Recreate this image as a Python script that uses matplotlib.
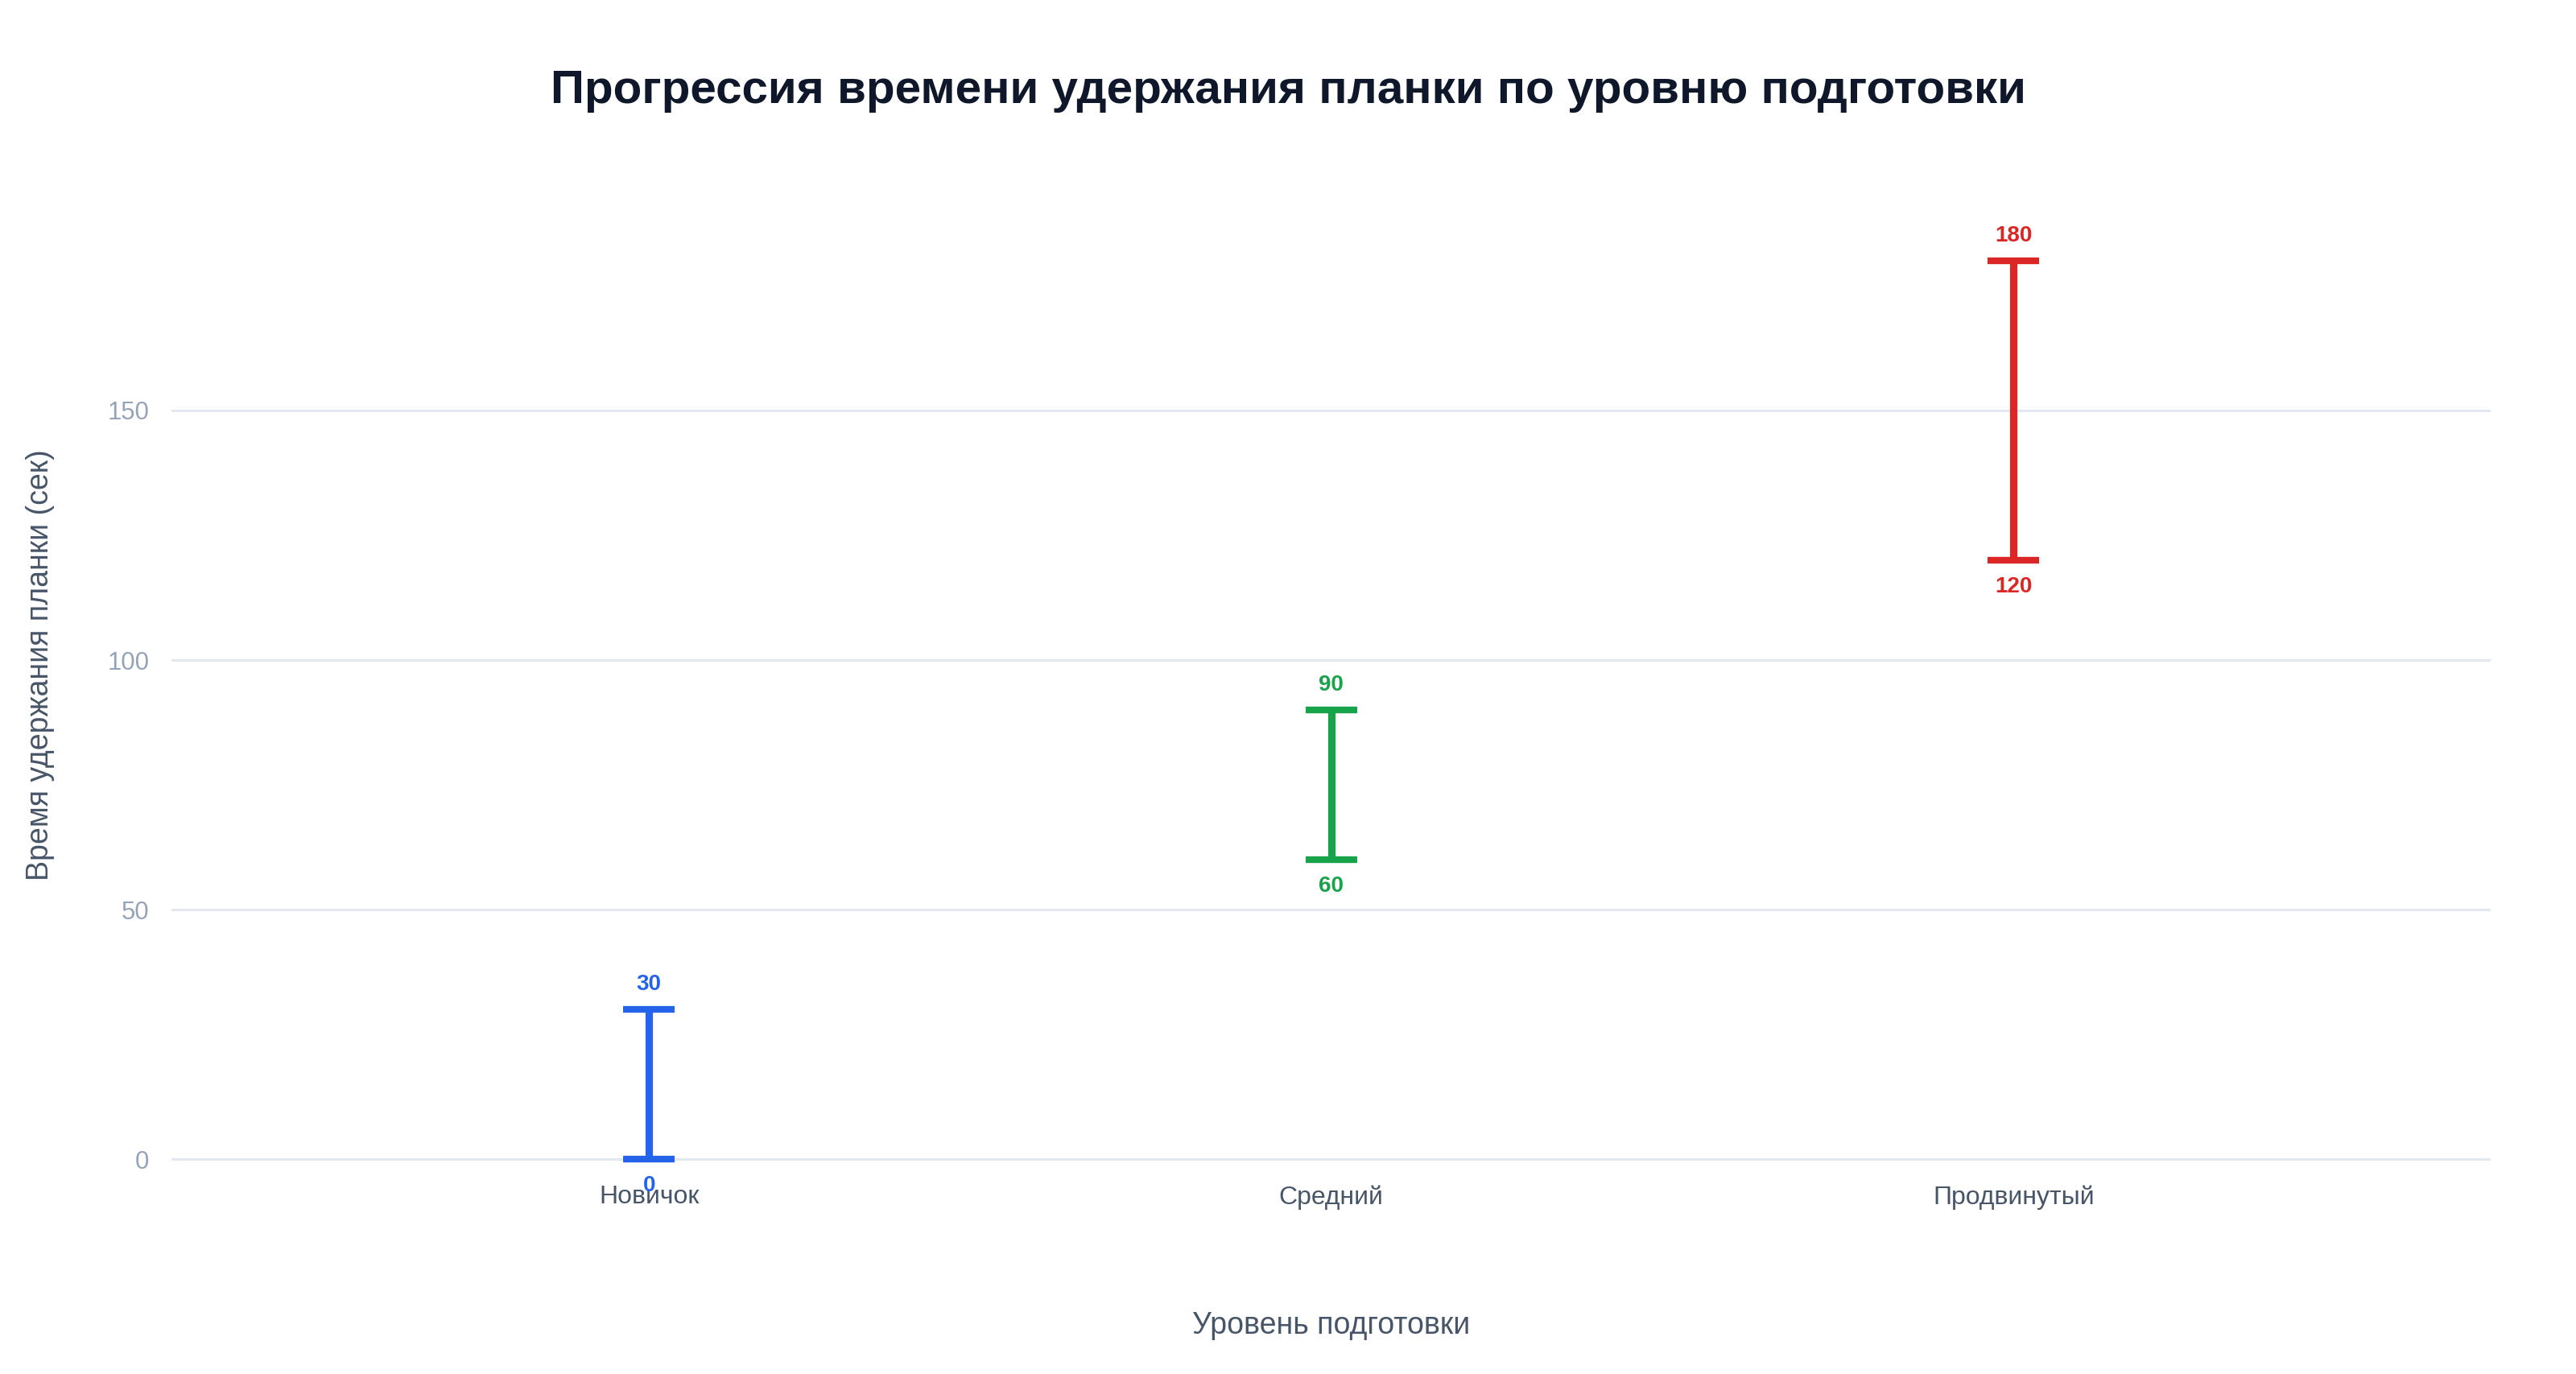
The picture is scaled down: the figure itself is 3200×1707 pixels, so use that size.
import matplotlib
matplotlib.use("Agg")
import matplotlib.pyplot as plt

plt.rcParams['font.family'] = ['Liberation Sans', 'DejaVu Sans']

levels = ['Новичок', 'Средний', 'Продвинутый']
min_time = [0, 60, 120]
max_time = [30, 90, 180]
colors = ['#2563eb', '#16a34a', '#dc2626']
yticks = [0, 50, 100, 150]

title = 'Прогрессия времени удержания планки по уровню подготовки'
xlabel = 'Уровень подготовки'
ylabel = 'Время удержания планки (сек)'

fig = plt.figure(figsize=(16, 8.535), dpi=200)
fig.patch.set_facecolor('white')
ax = fig.add_axes([0.0666, 0.1473, 0.967 - 0.0666, 0.8647 - 0.1473])

xs = list(range(len(levels)))
for x, lo, hi, c in zip(xs, min_time, max_time, colors):
    mid = (lo + hi) / 2
    err = (hi - lo) / 2
    ax.errorbar([x], [mid], yerr=[[err], [err]], fmt='none', ecolor=c,
                elinewidth=3.3, capsize=11.5, capthick=3.0, zorder=3)
    ax.annotate(f'{hi}', (x, hi), xytext=(0, 11.0), textcoords='offset points',
                ha='center', va='center', fontsize=10, fontweight='bold',
                color=c, annotation_clip=False, zorder=4)
    ax.annotate(f'{lo}', (x, lo), xytext=(0, -12.0), textcoords='offset points',
                ha='center', va='center', fontsize=10, fontweight='bold',
                color=c, annotation_clip=False, zorder=4)

ax.set_xlim(-0.7, 2.7)
ax.set_ylim(-2.5, 195)
ax.set_xticks(xs)
ax.set_xticklabels(levels)
ax.set_yticks(yticks)
ax.set_yticklabels([str(t) for t in yticks])

for s in ax.spines.values():
    s.set_visible(False)
ax.tick_params(axis='both', length=0)
ax.tick_params(axis='y', labelsize=11.2, colors='#94a3b8', pad=10)
ax.tick_params(axis='x', labelsize=11.5, colors='#475569', pad=6)
ax.grid(axis='y', color='#e2e8f0', linewidth=1.1, zorder=0)
ax.set_axisbelow(True)

fig.text(0.5, 1 - 113 / 1707, title, ha='center', va='center',
         fontsize=21, fontweight='bold', color='#0f172a')
fig.text(1654 / 3200, 1 - 1647 / 1707, xlabel, ha='center', va='center',
         fontsize=13.5, color='#475569')
fig.text(50 / 3200, 1 - 826 / 1707, ylabel, ha='center', va='center',
         rotation=90, fontsize=13.5, color='#475569')

fig.savefig('out.png', dpi=200, facecolor='white')
